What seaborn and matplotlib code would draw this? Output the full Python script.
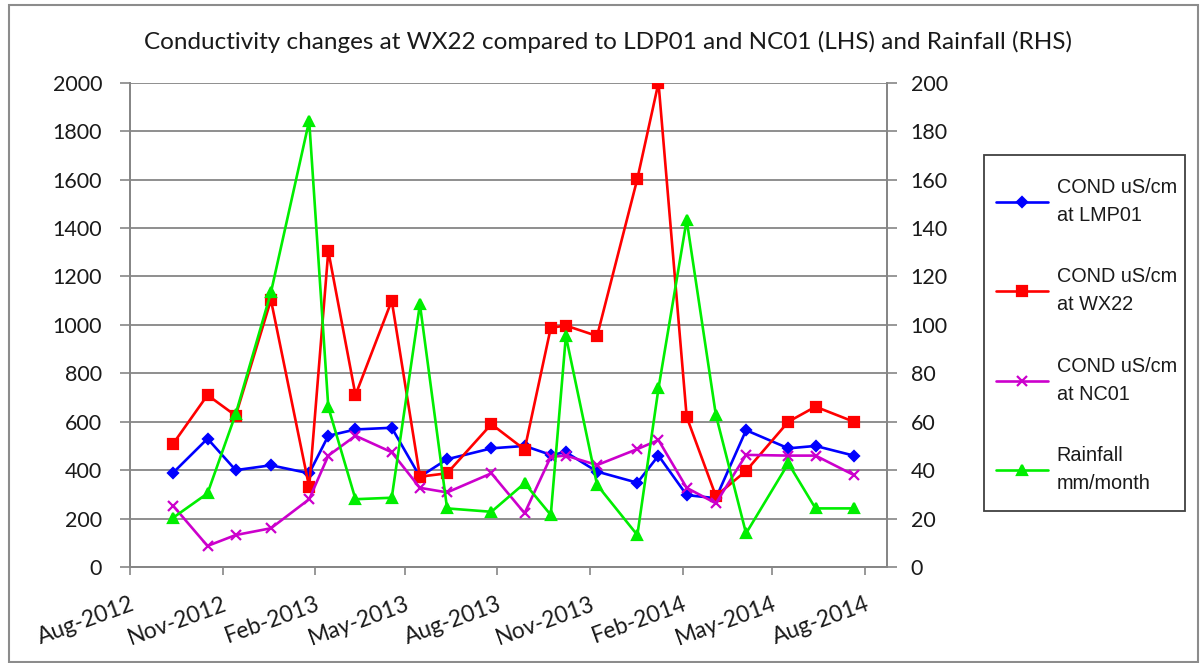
import matplotlib
matplotlib.use("Agg")
import matplotlib.pyplot as plt
import matplotlib.dates as mdates
from matplotlib.patches import Rectangle
import seaborn as sns
import pandas as pd

# ---- data ----
dates = ["2012-09-13", "2012-10-17", "2012-11-14", "2012-12-19", "2013-01-26",
         "2013-02-14", "2013-03-13", "2013-04-18", "2013-05-16", "2013-06-12",
         "2013-07-26", "2013-08-28", "2013-09-23", "2013-10-08", "2013-11-08",
         "2013-12-18", "2014-01-08", "2014-02-05", "2014-03-06", "2014-04-05",
         "2014-05-17", "2014-06-13", "2014-07-21"]
cond_lmp01 = [390, 530, 400, 420, 387, 542, 568, 575, 373, 445, 490, 500, 463,
              474, 394, 348, 460, 297, 284, 565, 490, 500, 460]
cond_wx22 = [510, 710, 625, 1103, 330, 1305, 710, 1100, 373, 387, 590, 485, 988,
             997, 954, 1603, 2000, 620, 293, 397, 600, 662, 600]
cond_nc01 = [252, 87, 132, 160, 280, 460, 542, 474, 327, 308, 387, 222, 455,
             460, 421, 487, 524, 327, 263, 463, 460, 460, 380]
rainfall = [20.4, 30.4, 63.2, 113.4, 184.3, 66.0, 28.0, 28.6, 108.5, 24.2, 22.8,
            34.6, 21.5, 95.4, 33.9, 13.2, 73.8, 143.3, 62.8, 13.9, 42.8, 24.2, 24.2]
labels = ["COND uS/cm\nat LMP01", "COND uS/cm\nat WX22",
          "COND uS/cm\nat NC01", "Rainfall\nmm/month"]
title = "Conductivity changes at WX22 compared to LDP01 and NC01 (LHS) and Rainfall (RHS)"
left_ticks = list(range(0, 2001, 200))
right_ticks = list(range(0, 201, 20))

df = pd.DataFrame({"date": pd.to_datetime(dates), "lmp01": cond_lmp01,
                   "wx22": cond_wx22, "nc01": cond_nc01, "rain": rainfall})

sns.set_style("white")
plt.rcParams["font.family"] = ["Lato", "DejaVu Sans"]

W, H = 1204, 663
fig = plt.figure(figsize=(W / 100, H / 100), dpi=100)
ax = fig.add_axes([130 / W, 1 - 567 / H, (887 - 130) / W, (567 - 82.7) / H])
ax2 = ax.twinx()

grey = "#868686"
txt = "#1a1a1a"
lw = 1.9

series = [("lmp01", "#0000FF", "D", 5.5, ax),
          ("wx22", "#FF0000", "s", 7, ax),
          ("nc01", "#CC00CC", "x", 7, ax),
          ("rain", "#00EE00", "^", 7, ax2)]
handles = []
for (col, color, mk, ms, a), lab in zip(series, labels):
    sns.lineplot(data=df, x="date", y=col, ax=a, color=color, marker=mk,
                 markersize=ms, markeredgecolor=color, markerfacecolor=color,
                 markeredgewidth=1.6, linewidth=lw, legend=False)
    handles.append(a.get_lines()[-1])

ax.set_xlim(pd.Timestamp("2012-08-01"), pd.Timestamp("2014-08-23"))
ax.set_ylim(0, 2000)
ax2.set_ylim(0, 200)
ax.set_yticks(left_ticks)
ax2.set_yticks(right_ticks)
ax.set_xlabel("")
ax.set_ylabel("")
ax2.set_ylabel("")

ax.xaxis.set_major_locator(mdates.MonthLocator(bymonth=[2, 5, 8, 11]))
ax.xaxis.set_major_formatter(mdates.DateFormatter("%b-%Y"))

ax.yaxis.grid(True, color=grey, linewidth=1.3)
ax.set_axisbelow(True)
for a in (ax, ax2):
    for s in a.spines.values():
        s.set_color(grey)
        s.set_linewidth(1.3)
    a.spines["top"].set_visible(False)
ax.tick_params(axis="y", which="major", direction="out", length=7, width=1.2,
               color=grey, labelsize=15.5, labelcolor=txt, pad=13)
ax2.tick_params(axis="y", which="major", direction="out", length=7, width=1.2,
                color=grey, labelsize=15.5, labelcolor=txt, pad=10, right=True)
ax.tick_params(axis="x", which="major", direction="out", length=6, width=1.2,
               color=grey, labelsize=16.5, labelcolor=txt, pad=13, bottom=True)
for t in ax.get_xticklabels():
    t.set_rotation(20)
    t.set_ha("right")
    t.set_rotation_mode("anchor")

fig.text(608 / W, 1 - 42 / H, title, ha="center", va="center", fontsize=17.5,
         color=txt)

# legend: frame drawn separately to match the reference box
fig.patches.append(Rectangle((984 / W, 1 - 511 / H), (1185 - 984) / W,
                             (511 - 155) / H, transform=fig.transFigure,
                             fill=False, edgecolor="#404040", linewidth=1.3))
leg = fig.legend(handles, labels, loc="upper left",
                 bbox_to_anchor=(996 / W, 1 - 178 / H),
                 prop={"family": "Liberation Sans", "size": 14.3},
                 frameon=False, handlelength=2.6, handletextpad=0.45,
                 labelspacing=2.15, borderpad=0, borderaxespad=0)
for t in leg.get_texts():
    t.set_color(txt)
    t.set_linespacing(1.58)

fig.patches.append(Rectangle((9 / W, 0.002), (1198 - 9) / W, 1 - 5 / H - 0.002,
                             transform=fig.transFigure, fill=False,
                             edgecolor="#8c8c8c", linewidth=1.5))

fig.savefig("out.png", dpi=100)
